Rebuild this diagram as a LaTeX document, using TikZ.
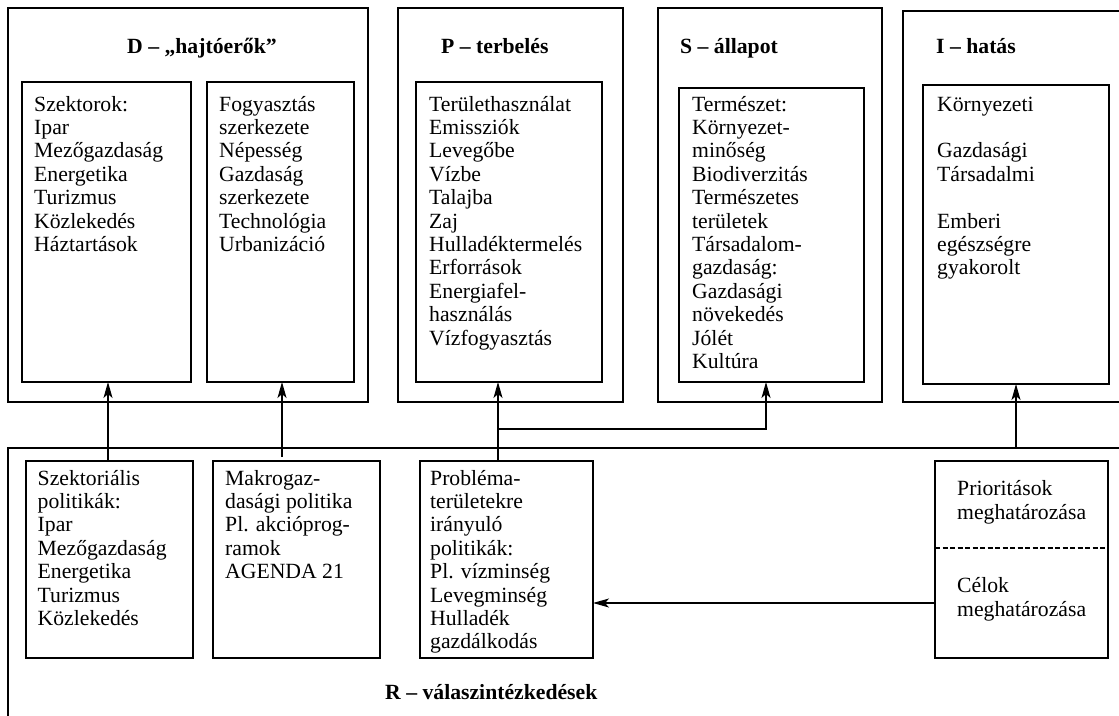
\documentclass[tikz,border=0pt]{standalone}
\usepackage{fontspec}
\setmainfont{Liberation Serif}
\usetikzlibrary{arrows.meta}
\begin{document}
\begin{tikzpicture}[x=1pt,y=-1pt,
  box/.style={draw,line width=1.1pt,inner sep=0pt,outer sep=0pt,anchor=north west},
  txt/.style={anchor=north west,inner sep=0pt,align=left,font=\fontsize{21.7}{23.4}\selectfont},
  ttl/.style={anchor=base west,inner sep=0pt,font=\fontsize{21.7}{23.4}\selectfont\bfseries},
  arr/.style={line width=1.1pt,-{Stealth[length=16pt,width=9pt,inset=4pt]}},
  ln/.style={line width=1.1pt}]
\useasboundingbox (0,0) rectangle (1119,715);
\clip (0,0) rectangle (1119,715);
% outer boxes
\node[box,minimum width=360pt,minimum height=394pt] (D) at (8,8) {};
\node[box,minimum width=225pt,minimum height=394pt] (P) at (398,8) {};
\node[box,minimum width=224pt,minimum height=394pt] (S) at (658,8) {};
\node[box,minimum width=240pt,minimum height=391pt] (I) at (903,11) {};
\node[box,minimum width=1200pt,minimum height=400pt] (R) at (8,448) {};
% inner boxes
\node[box,minimum width=169pt,minimum height=300pt] (d1) at (22,82) {};
\node[box,minimum width=147pt,minimum height=300pt] (d2) at (207,82) {};
\node[box,minimum width=186pt,minimum height=300pt] (p1) at (416,82) {};
\node[box,minimum width=185pt,minimum height=294pt] (s1) at (679,88) {};
\node[box,minimum width=186pt,minimum height=299pt] (i1) at (923,85) {};
\node[box,minimum width=167pt,minimum height=197pt] (r1) at (26,461) {};
\node[box,minimum width=167pt,minimum height=197pt] (r2) at (213,461) {};
\node[box,minimum width=173pt,minimum height=197pt] (r3) at (420,461) {};
\node[box,minimum width=173pt,minimum height=197pt] (r4) at (935,461) {};
% titles
\node[ttl] (tD) at (127,53.5) {D – „hajtóerők”};
\node[ttl] (tP) at (441,53.5) {P – terbelés};
\node[ttl] (tS) at (680,53.5) {S – állapot};
\node[ttl] (tI) at (936,53) {I – hatás};
\node[ttl] (tR) at (385,699) {R – válaszintézkedések};
% texts
\node[txt] (xd1) at (34,94.6) {\strut Szektorok:\\Ipar\\Mezőgazdaság\\Energetika\\Turizmus\\Közlekedés\\Háztartások};
\node[txt] (xd2) at (219,94.6) {\strut Fogyasztás\\szerkezete\\Népesség\\Gazdaság\\szerkezete\\Technológia\\Urbanizáció};
\node[txt] (xp1) at (429,94.6) {\strut Területhasználat\\Emissziók\\Levegőbe\\Vízbe\\Talajba\\Zaj\\Hulladéktermelés\\Erforrások\\Energiafel-\\használás\\Vízfogyasztás};
\node[txt] (xs1) at (692,94.6) {\strut Természet:\\Környezet-\\minőség\\Biodiverzitás\\Természetes\\területek\\Társadalom-\\gazdaság:\\Gazdasági\\növekedés\\Jólét\\Kultúra};
\node[txt] (xi1) at (937,94.6) {\strut Környezeti\\[23.4pt]Gazdasági\\Társadalmi\\[23.4pt]Emberi\\egészségre\\gyakorolt};
\node[txt] (xr1) at (37.5,468.6) {\strut Szektoriális\\politikák:\\Ipar\\Mezőgazdaság\\Energetika\\Turizmus\\Közlekedés};
\node[txt] (xr2) at (225,468.6) {\strut Makrogaz-\\dasági politika\\Pl. akcióprog-\\ramok\\AGENDA 21};
\node[txt] (xr3) at (430,468.6) {\strut Probléma-\\területekre\\irányuló\\politikák:\\Pl. vízminség\\Levegminség\\Hulladék\\gazdálkodás};
\node[txt] (xr4a) at (957,479.1) {\strut Prioritások\\meghatározása};
\node[txt] (xr4b) at (957,576.1) {\strut Célok\\meghatározása};
% dashed divider
\coordinate (dsh) at (0,548);
\draw[ln,dash pattern=on 5pt off 2.5pt] (r4.west |- dsh) -- (r4.east |- dsh);
% connectors
\coordinate (c1) at (108,0);
\coordinate (c2) at (282,0);
\coordinate (c3) at (498,0);
\coordinate (c4) at (766,0);
\coordinate (c5) at (1016,0);
\coordinate (c6) at (0,603);
\coordinate (j) at (498,429);
\coordinate (m2) at (282,457);
\draw[arr] (r1.north -| c1) -- (d1.south -| c1);
\draw[arr] (m2) -- (d2.south -| c2);
\draw[arr] (r3.north -| c3) -- (p1.south -| c3);
\draw[arr] (j) -| (c4 |- s1.south);
\draw[arr] (R.north -| c5) -- (i1.south -| c5);
\draw[arr] (r4.west |- c6) -- (r3.east |- c6);
\end{tikzpicture}
\end{document}
